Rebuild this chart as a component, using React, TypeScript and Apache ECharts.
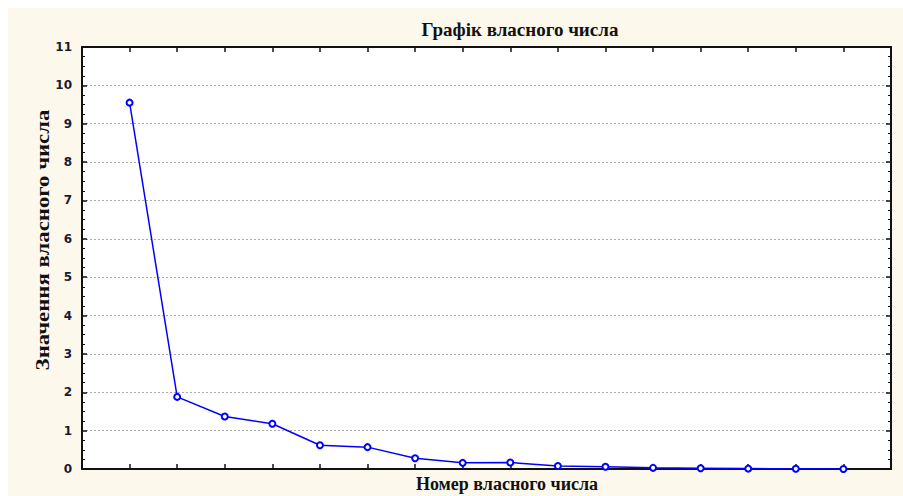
import React, { useEffect, useRef } from "react";
import * as echarts from "echarts";

const eigenNumbers = [1, 2, 3, 4, 5, 6, 7, 8, 9, 10, 11, 12, 13, 14, 15, 16];
const eigenValues = [9.55, 1.88, 1.37, 1.18, 0.62, 0.57, 0.28, 0.16, 0.17, 0.08, 0.06, 0.03, 0.02, 0.01, 0.005, 0.0];
const titleText = "Графік власного числа";
const xName = "Номер власного числа";
const yName = "Значення власного числа";

export default function App() {
  const ref = useRef<HTMLDivElement>(null);
  useEffect(() => {
    if (!ref.current) return;
    const chart = echarts.init(ref.current, undefined, { renderer: "svg" });
    const serif = "'Liberation Serif', 'DejaVu Serif', serif";
    const sans = "'DejaVu Sans', 'Liberation Sans', sans-serif";
    const axisBase = {
      min: 0,
      axisLine: { show: true, onZero: false, lineStyle: { color: "#111", width: 2 } },
      axisTick: { show: true, inside: true, length: 5, lineStyle: { color: "#111", width: 1.5 } },
    };
    chart.setOption({
      animation: false,
      backgroundColor: "#fdf8ec",
      grid: {
        left: 74,
        right: 12,
        top: 39,
        bottom: 27,
        show: true,
        backgroundColor: "#ffffff",
        borderWidth: 0,
      },
      graphic: [
        {
          type: "text",
          x: 512,
          y: 21,
          style: {
            text: titleText,
            font: `bold 19px ${serif}`,
            fill: "#111",
            textAlign: "center",
            textVerticalAlign: "middle",
          },
        },
        {
          type: "text",
          x: 499,
          y: 476,
          style: {
            text: xName,
            font: `bold 18px ${serif}`,
            fill: "#111",
            textAlign: "center",
            textVerticalAlign: "middle",
          },
        },
        {
          type: "text",
          x: 35,
          y: 232,
          rotation: Math.PI / 2,
          scaleX: 1.2,
          style: {
            text: yName,
            font: `bold 19px ${serif}`,
            fill: "#111",
            textAlign: "center",
            textVerticalAlign: "middle",
          },
        },
      ],
      xAxis: [
        {
          ...axisBase,
          type: "value",
          position: "bottom",
          max: 17,
          interval: 1,
          axisLabel: { show: false },
          splitLine: { show: false },
        },
        {
          ...axisBase,
          type: "value",
          position: "top",
          max: 17,
          interval: 1,
          axisLabel: { show: false },
          splitLine: { show: false },
        },
      ],
      yAxis: [
        {
          ...axisBase,
          type: "value",
          position: "left",
          max: 11,
          interval: 1,
          minorTick: { show: true, splitNumber: 4, length: 3, lineStyle: { color: "#111", width: 1 } },
          axisLabel: {
            show: true,
            margin: 10,
            fontFamily: sans,
            fontWeight: "bold",
            fontSize: 12,
            color: "#1a1a2e",
          },
          splitLine: {
            show: true,
            lineStyle: { color: "#aaaaaa", type: [2, 2], width: 1 },
          },
        },
        {
          ...axisBase,
          type: "value",
          position: "right",
          max: 11,
          interval: 1,
          minorTick: { show: true, splitNumber: 4, length: 3, lineStyle: { color: "#111", width: 1 } },
          axisLabel: { show: false },
          splitLine: { show: false },
        },
      ],
      series: [
        {
          type: "line",
          xAxisIndex: 0,
          yAxisIndex: 0,
          data: eigenNumbers.map((n, i) => [n, eigenValues[i]]),
          symbol: "emptyCircle",
          symbolSize: 6,
          lineStyle: { color: "#0000ff", width: 1.5 },
          itemStyle: { color: "#0000ff", borderColor: "#0000ff", borderWidth: 1.5 },
        },
      ],
    });
    return () => chart.dispose();
  }, []);
  return (
    <div
      ref={ref}
      style={{ position: "fixed", left: 8, top: 8, width: 895, height: 488 }}
    />
  );
}
